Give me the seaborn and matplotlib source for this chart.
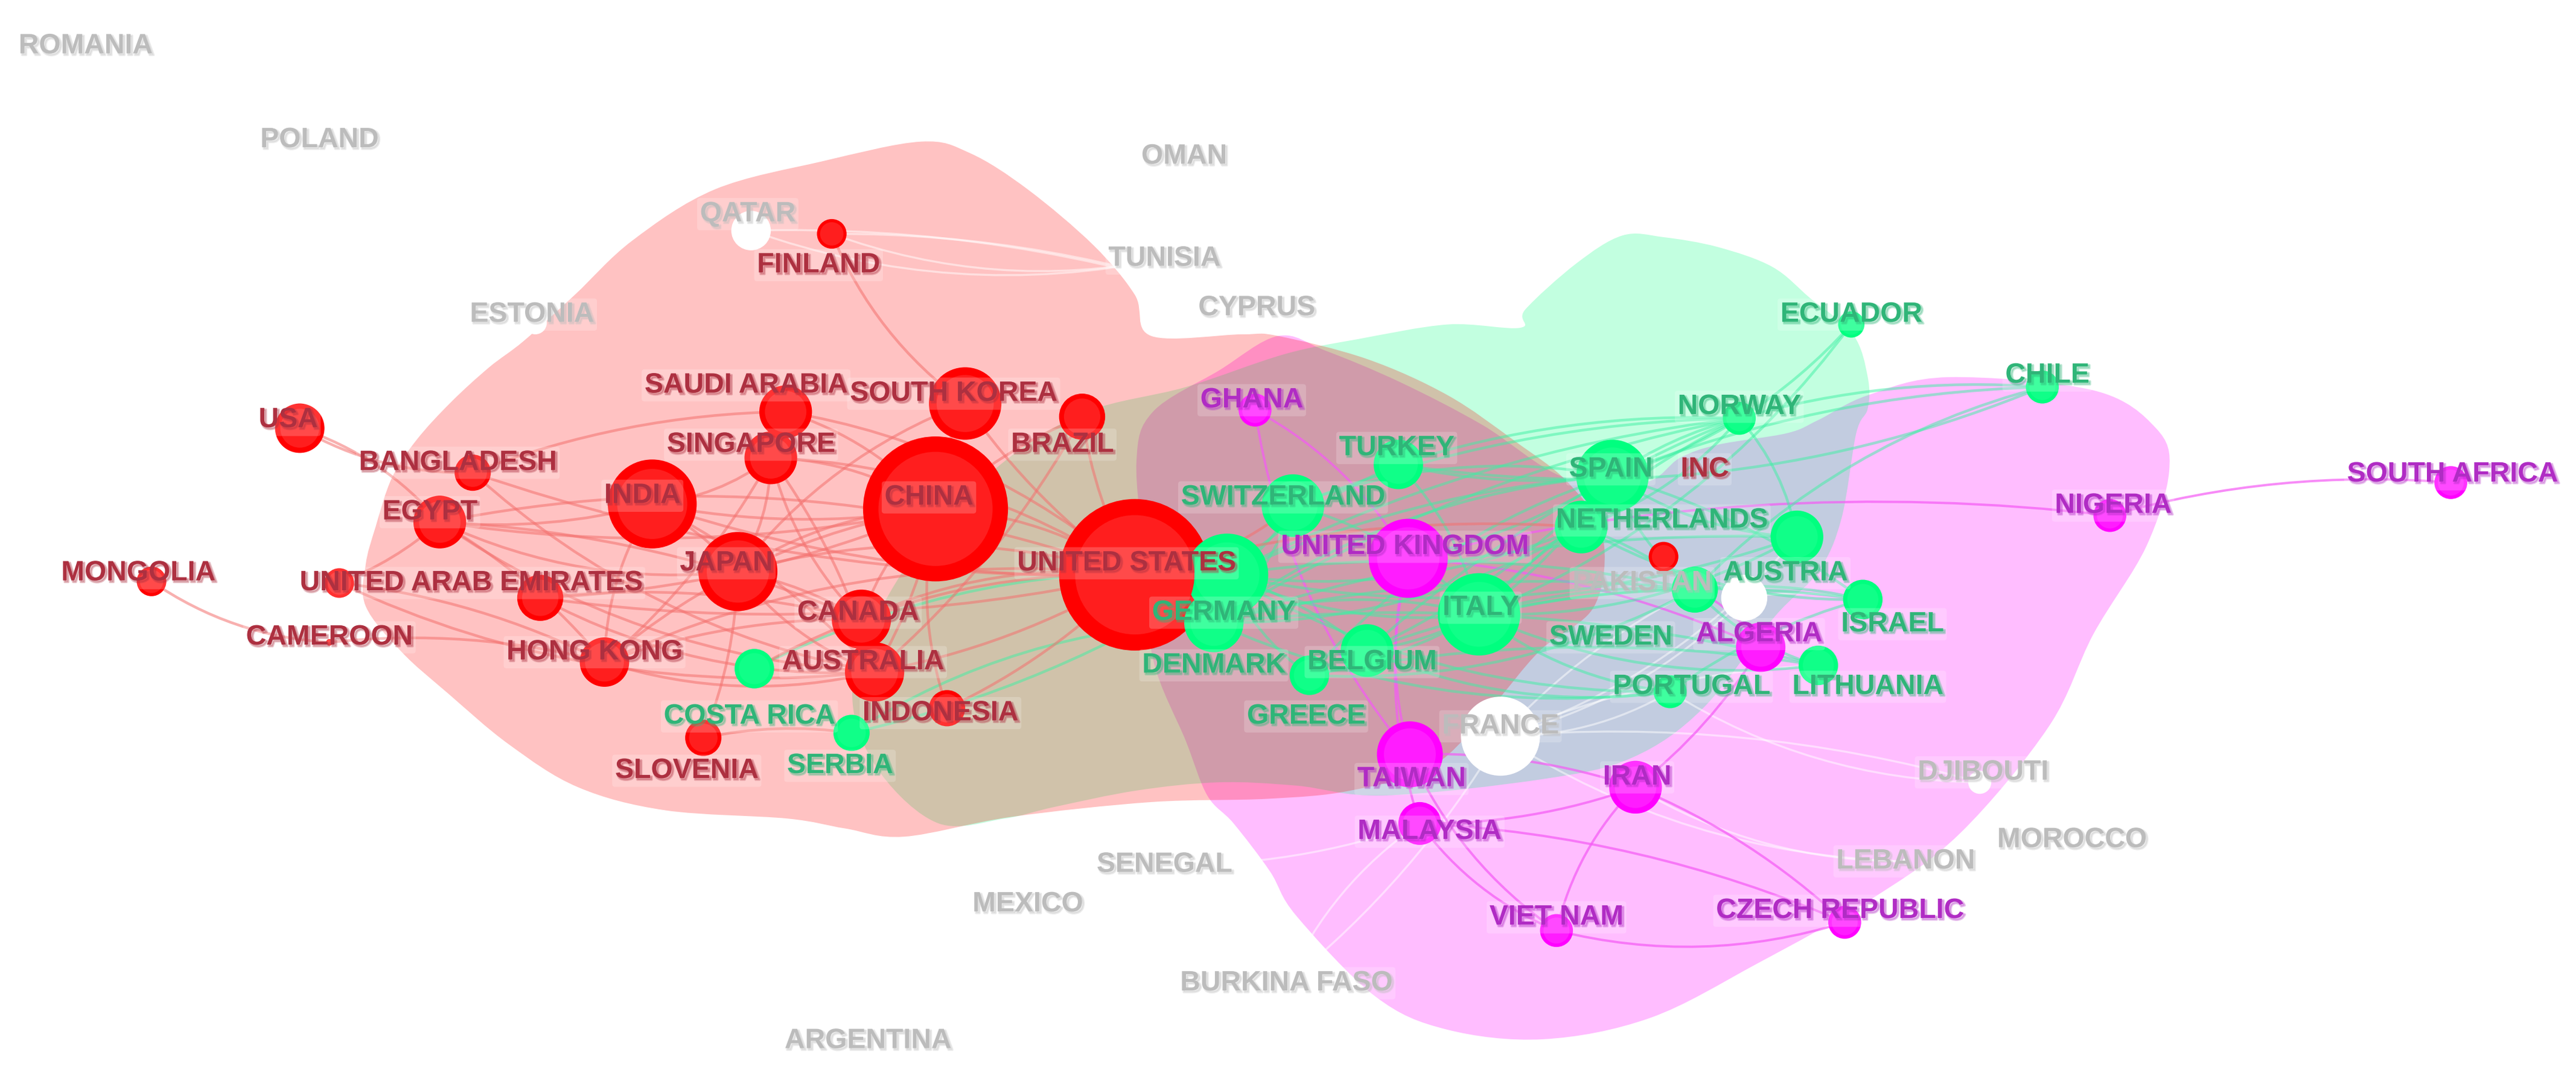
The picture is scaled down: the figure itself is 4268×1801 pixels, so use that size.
import matplotlib
matplotlib.use("Agg")
import matplotlib.pyplot as plt
import matplotlib.patheffects as pe
from matplotlib.path import Path
from matplotlib.patches import PathPatch
import numpy as np
import pandas as pd
import seaborn as sns

# nodes: name, cluster, node x/y/diameter, label x/y (layout units, image is 1564 x 660)
names = ["CHINA", "UNITED STATES", "INDIA", "JAPAN", "SOUTH KOREA", "SAUDI ARABIA", "SINGAPORE", "BRAZIL", "USA",
         "BANGLADESH", "EGYPT", "MONGOLIA", "CAMEROON", "UNITED ARAB EMIRATES", "CANADA", "AUSTRALIA", "HONG KONG",
         "INDONESIA", "SLOVENIA", "FINLAND", "INC", "",
         "GERMANY", "DENMARK", "COSTA RICA", "SERBIA", "SWITZERLAND", "TURKEY", "SPAIN", "NETHERLANDS", "ITALY",
         "BELGIUM", "GREECE", "NORWAY", "ECUADOR", "CHILE", "AUSTRIA", "SWEDEN", "ISRAEL", "LITHUANIA", "PORTUGAL",
         "UNITED KINGDOM", "TAIWAN", "IRAN", "MALAYSIA", "VIET NAM", "CZECH REPUBLIC", "ALGERIA", "NIGERIA",
         "SOUTH AFRICA", "GHANA",
         "FRANCE", "PAKISTAN", "QATAR", "ESTONIA", "DJIBOUTI", "ROMANIA", "POLAND", "OMAN", "TUNISIA", "CYPRUS",
         "MOROCCO", "LEBANON", "SENEGAL", "MEXICO", "BURKINA FASO", "ARGENTINA"]
clusters = ["red"] * 22 + ["green"] * 19 + ["magenta"] * 10 + ["white"] * 16
node_x = [568, 689, 396, 448, 586, 477, 468, 657, 182, 287, 267, 92, 200, 328, 523, 531, 367, 575, 427, 505, 1010, 206,
          745, 737, 458, 517, 785, 849, 979, 960, 898, 830, 795, 1056, 1124, 1240, 1091, 1029, 1131, 1104, 1014,
          855, 856, 993, 862, 945, 1120, 1069, 1281, 1488, 762,
          911, 1059, 456, 325, 1202, 52, 194, 719, 707, 763, 1258, 1157, 707, 624, 781, 527]
node_y = [309, 349, 306, 347, 245, 250, 278, 253, 260, 287, 317, 353, 390, 363, 376, 408, 402, 430, 448, 142, 338, 354,
          349, 378, 406, 445, 307, 282, 289, 320, 373, 395, 410, 254, 197, 235, 326, 358, 364, 404, 420,
          339, 458, 478, 500, 565, 560, 393, 313, 293, 249,
          447, 363, 140, 196, 475, 28, 85, 95, 157, 187, 510, 523, 525, 549, 597, 632]
node_d = [88, 92, 54, 48, 44, 32, 32, 28, 30, 22, 32, 18, 4, 28, 36, 36, 30, 22, 22, 18, 18, 18,
          50, 36, 24, 22, 38, 30, 44, 32, 50, 32, 24, 20, 16, 20, 32, 28, 24, 24, 20,
          48, 40, 32, 26, 20, 20, 30, 20, 20, 20,
          48, 28, 24, 14, 14, 4, 4, 4, 4, 4, 4, 4, 4, 4, 4, 4]
label_x = [564, 684, 390, 441, 579, 453, 456, 645, 175, 278, 261, 84, 200, 286, 521, 524, 361, 571, 417, 497, 1035, 206,
           743, 737, 455, 510, 779, 848, 978, 1009, 899, 833, 793, 1056, 1124, 1243, 1084, 978, 1149, 1134, 1027,
           853, 857, 994, 868, 945, 1117, 1068, 1283, 1489, 760,
           911, 997, 454, 323, 1204, 52, 194, 719, 707, 763, 1258, 1157, 707, 624, 781, 527]
label_y = [302, 342, 301, 342, 239, 234, 270, 270, 255, 281, 311, 348, 387, 354, 372, 402, 396, 433, 468, 161, 285, 354,
           372, 404, 435, 465, 302, 272, 285, 316, 369, 402, 435, 247, 191, 228, 348, 387, 379, 417, 417,
           332, 473, 472, 505, 557, 553, 385, 307, 288, 243,
           441, 354, 130, 191, 469, 28, 85, 95, 157, 187, 510, 523, 525, 549, 597, 632]

# cluster outlines
red_hull_x = [559, 589, 624, 664, 689, 699, 754, 776, 830, 879, 920, 952, 973, 968, 935, 905, 870, 820, 770,
              699, 614, 549, 513, 478, 404, 351, 309, 272, 244, 222, 222, 228, 238, 253, 274, 297, 318, 349, 384, 434, 499]
red_hull_y = [86, 93, 115, 149, 179, 204, 203, 204, 218, 240, 268, 293, 325, 368, 395, 430, 465, 480, 485,
              487, 496, 508, 503, 497, 492, 478, 452, 421, 396, 368, 343, 320, 290, 267, 244, 223, 207, 179, 146, 115, 98]
green_hull_x = [985, 1010, 1043, 1076, 1099, 1125, 1134, 1134, 1127, 1118, 1104, 1077, 1034, 991, 937, 840, 787, 740,
                690, 640, 610, 570, 535, 518, 525, 560, 610, 660, 720, 780, 824, 879, 923, 926, 957]
green_hull_y = [143, 144, 150, 162, 181, 203, 229, 248, 263, 315, 347, 375, 430, 460, 473, 483, 477, 475,
                480, 490, 497, 500, 470, 430, 390, 330, 280, 250, 235, 215, 206, 197, 199, 188, 160]
magenta_hull_x = [776, 740, 700, 690, 695, 700, 720, 733, 749, 771, 787, 835, 878, 937, 1002, 1067, 1136, 1190, 1244,
                  1271, 1303, 1317, 1309, 1271, 1183, 1134, 1104, 1085, 1043, 1020, 998, 950, 900, 850, 805]
magenta_hull_y = [204, 225, 250, 280, 340, 400, 450, 483, 500, 529, 556, 605, 625, 631, 618, 585, 546, 506, 441,
                  385, 332, 286, 260, 237, 229, 240, 255, 263, 270, 278, 293, 290, 258, 232, 213]

# links, hub first
red_links = [("UNITED STATES", n) for n in ["CHINA", "INDIA", "JAPAN", "SOUTH KOREA", "SINGAPORE", "BRAZIL", "EGYPT",
                                            "UNITED ARAB EMIRATES", "CANADA", "AUSTRALIA", "HONG KONG", "INDONESIA",
                                            "SAUDI ARABIA", "BANGLADESH", "COSTA RICA"]]
red_links += [("CHINA", n) for n in ["INDIA", "JAPAN", "SOUTH KOREA", "SINGAPORE", "EGYPT", "CANADA", "AUSTRALIA",
                                     "HONG KONG", "UNITED ARAB EMIRATES", "SAUDI ARABIA", "BRAZIL", "INDONESIA"]]
red_links += [("INDIA", "EGYPT"), ("INDIA", "SINGAPORE"), ("INDIA", "JAPAN"), ("INDIA", "HONG KONG"),
              ("INDIA", "AUSTRALIA"), ("EGYPT", "JAPAN"), ("EGYPT", "CANADA"),
              ("EGYPT", "AUSTRALIA"), ("EGYPT", "HONG KONG"), ("EGYPT", "USA"), ("EGYPT", ""),
              ("USA", "BANGLADESH"), ("BANGLADESH", "SAUDI ARABIA"), ("BANGLADESH", "AUSTRALIA"),
              ("JAPAN", "SLOVENIA"), ("JAPAN", "AUSTRALIA"), ("JAPAN", "CANADA"), ("JAPAN", "SINGAPORE"),
              ("SINGAPORE", "HONG KONG"), ("SINGAPORE", "CANADA"), ("SINGAPORE", "AUSTRALIA"),
              ("MONGOLIA", "CAMEROON"), ("CAMEROON", "HONG KONG"), ("UNITED ARAB EMIRATES", "AUSTRALIA"),
              ("UNITED ARAB EMIRATES", "CANADA"), ("HONG KONG", "AUSTRALIA"), ("HONG KONG", "CANADA"),
              ("", "AUSTRALIA"), ("", "HONG KONG"),
              ("FINLAND", "SOUTH KOREA"), ("SLOVENIA", "SERBIA"), ("SOUTH KOREA", "JAPAN"), ("BRAZIL", "AUSTRALIA"),
              ("UNITED STATES", "SWITZERLAND"), ("UNITED STATES", "NETHERLANDS")]
green_links = [("GERMANY", n) for n in ["ITALY", "SPAIN", "SWITZERLAND", "TURKEY", "NETHERLANDS", "BELGIUM", "GREECE",
                                        "SWEDEN", "AUSTRIA", "SERBIA", "PORTUGAL", "NORWAY", "COSTA RICA"]]
green_links += [("SPAIN", n) for n in ["ITALY", "SWITZERLAND", "NORWAY", "ECUADOR", "CHILE", "AUSTRIA", "TURKEY",
                                       "SWEDEN", "BELGIUM", "DENMARK", "UNITED KINGDOM", "GREECE", "ISRAEL"]]
green_links += [("ITALY", n) for n in ["SWITZERLAND", "NETHERLANDS", "AUSTRIA", "SWEDEN", "PORTUGAL", "ISRAEL",
                                       "LITHUANIA", "BELGIUM", "DENMARK", "GREECE", "TURKEY", "NORWAY", "ECUADOR"]]
green_links += [("DENMARK", n) for n in ["SWEDEN", "NETHERLANDS", "AUSTRIA", "PORTUGAL", "LITHUANIA", "SWITZERLAND",
                                         "NORWAY", "SERBIA"]]
green_links += [("BELGIUM", "SWEDEN"), ("BELGIUM", "PORTUGAL"), ("BELGIUM", "NORWAY"), ("NETHERLANDS", "NORWAY"),
                ("NETHERLANDS", "SWEDEN"), ("NETHERLANDS", "ISRAEL"), ("SWEDEN", "ISRAEL"), ("SWEDEN", "LITHUANIA"),
                ("PORTUGAL", "ISRAEL"), ("AUSTRIA", "NORWAY"), ("TURKEY", "NORWAY"), ("TURKEY", "CHILE"),
                ("NORWAY", "CHILE"), ("CHILE", "SWEDEN"), ("SWITZERLAND", "NORWAY"), ("GREECE", "SWEDEN"),
                ("GREECE", "LITHUANIA")]
magenta_links = [("UNITED KINGDOM", "TAIWAN"), ("UNITED KINGDOM", "ALGERIA"), ("UNITED KINGDOM", "GHANA"),
                 ("UNITED KINGDOM", "NIGERIA"), ("UNITED KINGDOM", "MALAYSIA"), ("TAIWAN", "IRAN"),
                 ("TAIWAN", "VIET NAM"), ("IRAN", "MALAYSIA"), ("IRAN", "VIET NAM"), ("IRAN", "CZECH REPUBLIC"),
                 ("MALAYSIA", "VIET NAM"), ("MALAYSIA", "CZECH REPUBLIC"), ("VIET NAM", "CZECH REPUBLIC"),
                 ("NIGERIA", "SOUTH AFRICA"), ("GHANA", "TAIWAN"), ("ALGERIA", "IRAN"), ("ALGERIA", "SWEDEN")]
white_links = [("QATAR", "TUNISIA"), ("QATAR", "CYPRUS"), ("FINLAND", "TUNISIA"), ("FINLAND", "CYPRUS"),
               ("FRANCE", "PAKISTAN"), ("FRANCE", "LITHUANIA"), ("FRANCE", "AUSTRIA"),
               ("FRANCE", "SWEDEN"), ("FRANCE", "PORTUGAL"), ("FRANCE", "DJIBOUTI"), ("FRANCE", "LEBANON"),
               ("FRANCE", "BURKINA FASO"), ("IRAN", "LEBANON"), ("MALAYSIA", "SENEGAL"), ("MALAYSIA", "BURKINA FASO"),
               ("PAKISTAN", "ISRAEL"), ("PORTUGAL", "DJIBOUTI")]

colors = {"red": "#ff0000", "green": "#00ff7f", "magenta": "#ff00ff", "white": "#ffffff"}
inner_colors = {"red": "#ff1e1e", "green": "#10ff88", "magenta": "#ff1cff", "white": "#ffffff"}
edge_colors = {"red": "#f4706e", "green": "#3df0a4", "magenta": "#f55af5", "white": "#ffffff"}
label_colors = {"red": "#ad3040", "green": "#2fb578", "magenta": "#b02cc4", "white": "#bcbcbc"}

df = pd.DataFrame({"name": names, "cluster": clusters, "x": node_x, "y": node_y, "d": node_d,
                   "lx": label_x, "ly": label_y})
df["area"] = (df["d"] * 1.965) ** 2
df["inner"] = df["area"] * 0.62
pos = df.set_index("name")

sns.set_theme(style="white")
plt.rcParams["font.family"] = ["Liberation Sans", "DejaVu Sans"]

fig, ax = plt.subplots(figsize=(42.68, 18.01), dpi=100)
fig.subplots_adjust(0, 0, 1, 1)


def smooth_path(xs, ys):
    # closed Catmull-Rom outline turned into bezier segments
    pts = np.column_stack([xs, ys]).astype(float)
    n = len(pts)
    verts = [pts[0]]
    codes = [Path.MOVETO]
    for i in range(n):
        p0, p1, p2, p3 = pts[i - 1], pts[i], pts[(i + 1) % n], pts[(i + 2) % n]
        verts += [p1 + (p2 - p0) / 6, p2 - (p3 - p1) / 6, p2]
        codes += [Path.CURVE4] * 3
    return Path(verts, codes)


def draw_links(links, key, lw, alpha):
    for i, (a, b) in enumerate(links):
        p, q = pos.loc[a, ["x", "y"]].to_numpy(float), pos.loc[b, ["x", "y"]].to_numpy(float)
        mid = (p + q) / 2
        perp = np.array([-(q - p)[1], (q - p)[0]])
        bend = 0.14 if i % 2 == 0 else -0.09
        path = Path([p, mid + perp * bend, q], [Path.MOVETO, Path.CURVE3, Path.CURVE3])
        ax.add_patch(PathPatch(path, fill=False, ec=edge_colors[key], lw=lw, alpha=alpha, zorder=2))


# magenta goes under, red on top, so overlaps come out mauve / brown
for hx, hy, col, al in [(magenta_hull_x, magenta_hull_y, "#ff00ff", 0.26),
                        (green_hull_x, green_hull_y, "#00ff7f", 0.24),
                        (red_hull_x, red_hull_y, "#ff0000", 0.24)]:
    ax.add_patch(PathPatch(smooth_path(hx, hy), fc=col, ec="none", alpha=al, zorder=1))

draw_links(white_links, "white", 2.4, 0.5)
draw_links(magenta_links, "magenta", 2.8, 0.7)
draw_links(green_links, "green", 3.2, 0.5)
draw_links(red_links, "red", 3.2, 0.55)

sns.scatterplot(data=df, x="x", y="y", hue="cluster", palette=colors, size="area",
                sizes=(df["area"].min(), df["area"].max()), linewidth=0, legend=False, ax=ax, zorder=3)
sns.scatterplot(data=df, x="x", y="y", hue="cluster", palette=inner_colors, size="inner",
                sizes=(df["inner"].min(), df["inner"].max()), linewidth=0, legend=False, ax=ax, zorder=4)

for row in df[df["name"] != ""].itertuples():
    col = label_colors[row.cluster]
    ax.text(row.lx, row.ly, row.name, ha="center", va="center", fontsize=33.5, fontweight="bold",
            color=col, zorder=5,
            bbox=dict(boxstyle="round,pad=0.1", fc="white", ec="none", alpha=0.2),
            path_effects=[pe.Stroke(linewidth=2.5, foreground=col, alpha=0.3, offset=(2, -2)), pe.Normal()])

ax.set_xlim(0, 1564)
ax.set_ylim(660, 0)
ax.axis("off")
fig.savefig("out.png", dpi=100, facecolor="white")
